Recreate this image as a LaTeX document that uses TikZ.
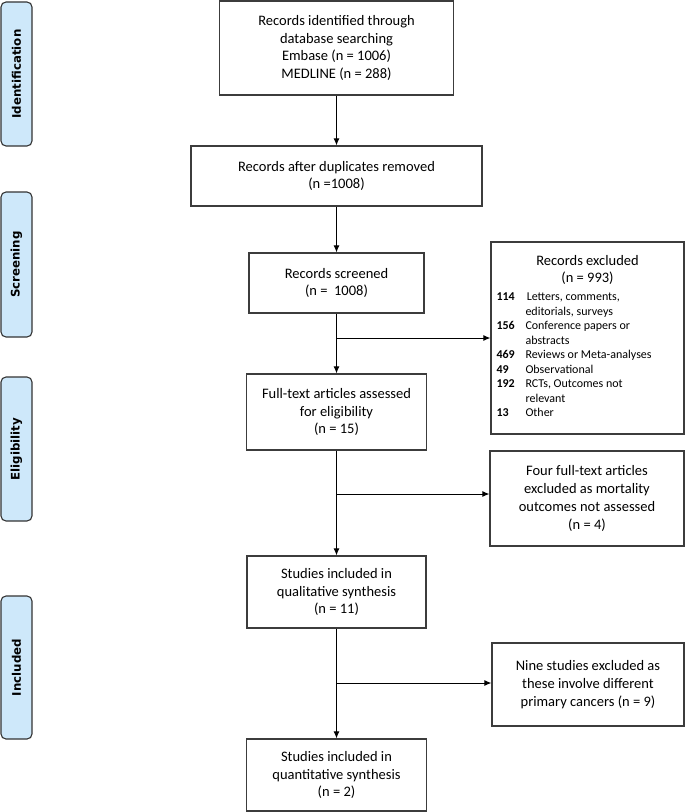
\documentclass[tikz,border=0pt]{standalone}
\usepackage{fontspec}
\setmainfont{Carlito}
\newfontfamily\stagefont{DejaVu Sans}
\usetikzlibrary{arrows.meta}
\definecolor{stageblue}{RGB}{206,232,250}
\definecolor{boxline}{RGB}{60,60,60}
\tikzset{
  stepbox/.style={draw=boxline, line width=1.2bp, align=center, inner sep=2bp,
    font=\fontsize{14.5bp}{17.7bp}\selectfont},
  stage/.style={draw=black!80, fill=stageblue, rounded corners=5bp, line width=1.1bp,
    rotate=90, minimum height=31bp, font=\stagefont\bfseries\fontsize{11.8bp}{14bp}\selectfont},
  flow/.style={-{Latex[length=7bp,width=6bp]}, line width=1bp},
}
\begin{document}
\begin{tikzpicture}[x=1bp,y=-1bp]
        \useasboundingbox (0,0) rectangle (685,812);
        % stages
        \node[stage, minimum width=144bp] (ident) at (16.5,74) {Identification};
        \node[stage, minimum width=145bp] (screen) at (16.5,264.5) {Screening};
        \node[stage, minimum width=144bp] (elig) at (16.5,449) {Eligibility};
        \node[stage, minimum width=143bp] (incl) at (16.5,667.5) {Included};
        % main column
        \node[stepbox, minimum width=234bp, minimum height=94bp] (found) at (336.5,48) {Records identified through\\database searching\\Embase (n = 1006)\\MEDLINE (n = 288)};
        \node[stepbox, minimum width=291bp, minimum height=60bp] (dedup) at (336.5,176) {Records after duplicates removed\\(n =1008)};
        \node[stepbox, minimum width=175bp, minimum height=60bp] (screened) at (336.5,283) {Records screened\\(n = ~1008)};
        \node[stepbox, minimum width=180bp, minimum height=76bp] (fulltext) at (336.5,412) {Full-text articles assessed\\for eligibility\\(n = 15)};
        \node[stepbox, minimum width=179bp, minimum height=72bp] (qual) at (336.5,592) {Studies included in\\qualitative synthesis\\(n = 11)};
        \node[stepbox, minimum width=180bp, minimum height=72bp] (quant) at (336.5,775) {Studies included in\\quantitative synthesis\\(n = 2)};
        % exclusions
        \node[stepbox, minimum width=193bp, minimum height=192bp] (excl) at (587.5,338) {Records excluded\\(n = 993)\\{\fontsize{12bp}{14.5bp}\selectfont
          \begin{tabular}[t]{@{}p{29bp}@{}p{153bp}@{}}
          \multicolumn{2}{@{}p{182bp}@{}}{\textbf{114}\hspace{12bp}Letters, comments,}\\
           & editorials, surveys\\
          \textbf{156} & Conference papers or\\
           & abstracts\\
          \textbf{469} & Reviews or Meta-analyses\\
          \textbf{49} & Observational\\
          \textbf{192} & RCTs, Outcomes not\\
           & relevant\\
          \textbf{13} & Other
          \end{tabular}}};
        \node[stepbox, minimum width=194bp, minimum height=95bp] (exclft) at (587,498.5) {Four full-text articles\\excluded as mortality\\outcomes not assessed\\(n = 4)};
        \node[stepbox, minimum width=192bp, minimum height=83bp] (exclca) at (588,684.5) {Nine studies excluded as\\these involve different\\primary cancers (n = 9)};
        % connectors
        \coordinate (fork1) at (336.5,338);
        \coordinate (fork2) at (336.5,494);
        \coordinate (fork3) at (336.5,683);
        \draw[flow] (found) -- (dedup);
        \draw[flow] (dedup) -- (screened);
        \draw[flow] (screened) -- (fulltext);
        \draw[flow] (fulltext) -- (qual);
        \draw[flow] (qual) -- (quant);
        \draw[flow] (fork1) -- (fork1 -| excl.west);
        \draw[flow] (fork2) -- (fork2 -| exclft.west);
        \draw[flow] (fork3) -- (fork3 -| exclca.west);
\end{tikzpicture}
\end{document}
